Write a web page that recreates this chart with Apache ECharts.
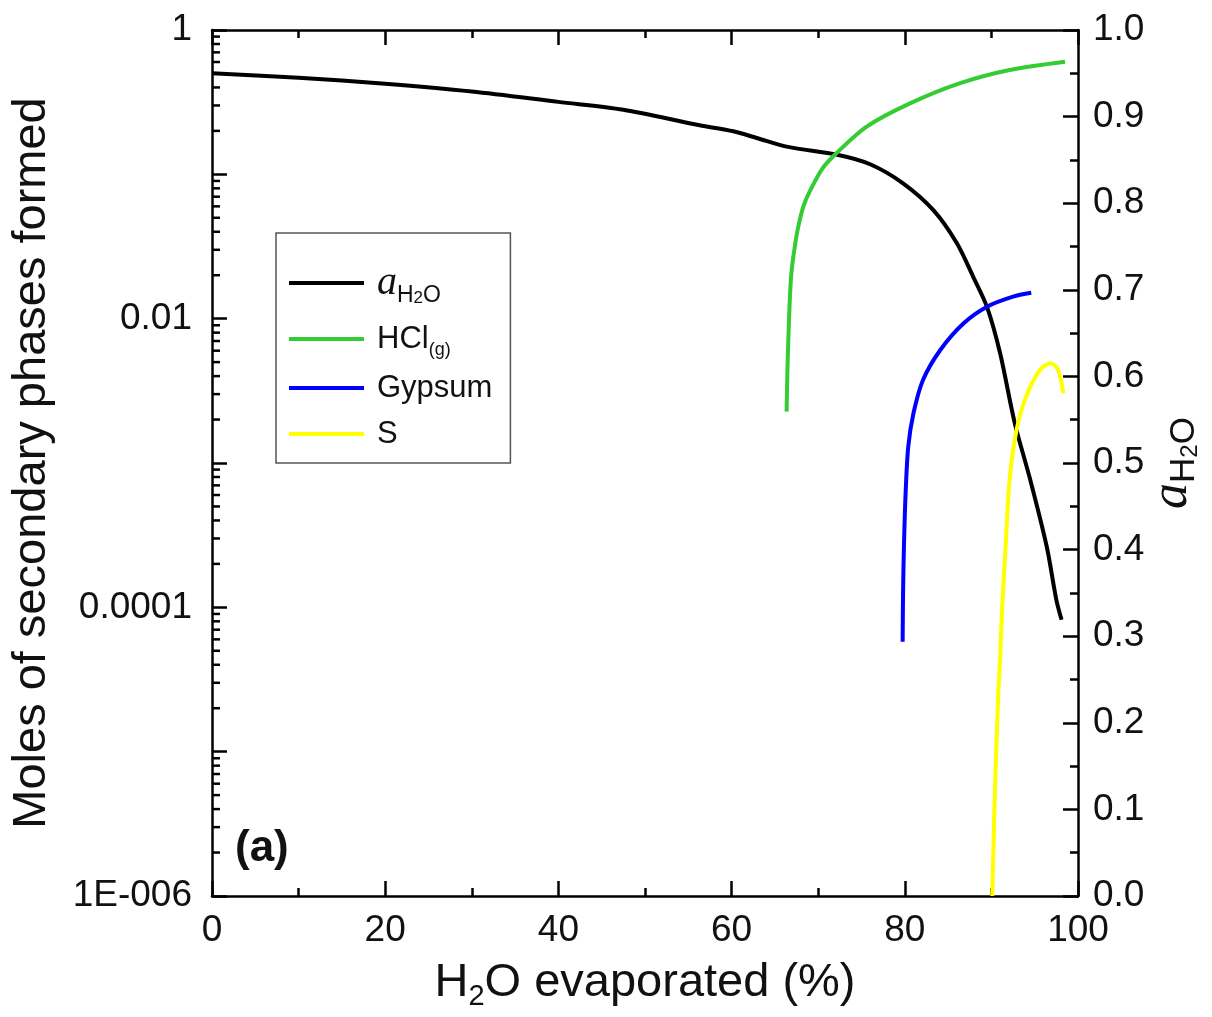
<!DOCTYPE html>
<html>
<head>
<meta charset="utf-8">
<title>Secondary phases vs H2O evaporated</title>
<script src="https://cdn.jsdelivr.net/npm/echarts@6/dist/echarts.min.js"></script>
<style>
  html, body { margin: 0; padding: 0; background: #fff; }
  #chart { width: 1212px; height: 1017px; }
</style>
</head>
<body>
<div id="chart"></div>
<script>
// water activity (right axis)
var waterX = [0, 10, 20, 30, 40, 47.5, 56.3, 60.2, 63, 66.5, 72.2, 76, 79.8, 83.3, 86, 87.9, 89.5, 91, 92.7, 94.5, 96.4, 97.5, 98.1];
var waterActivity = [0.950, 0.945, 0.938, 0.929, 0.917, 0.908, 0.890, 0.883, 0.875, 0.865, 0.856, 0.845, 0.823, 0.792, 0.754, 0.715, 0.680, 0.627, 0.546, 0.480, 0.403, 0.342, 0.319];

// moles formed (left log axis)
var hclX = [66.35, 66.45, 66.55, 66.7, 66.9, 67.3, 67.7, 68.3, 69.1, 70.5, 72.1, 75.6, 80.6, 86.4, 92.1, 98.5];
var hclMoles = [0.00227, 0.00447, 0.00711, 0.0126, 0.0206, 0.0316, 0.0434, 0.0603, 0.0778, 0.110, 0.140, 0.214, 0.310, 0.428, 0.528, 0.603];

var gypsumX = [79.75, 79.8, 79.9, 80.1, 80.4, 81.0, 82.1, 84.1, 86.8, 89.5, 92.5, 94.6];
var gypsumMoles = [5.78e-5, 1.26e-4, 2.63e-4, 6.31e-4, 1.30e-3, 2.21e-3, 3.76e-3, 6.07e-3, 9.29e-3, 1.21e-2, 1.42e-2, 1.51e-2];

var sulfurX = [90.1, 90.4, 90.8, 91.0, 91.2, 91.6, 92.1, 92.9, 94.0, 95.6, 96.8, 97.7, 98.3];
var sulfurMoles = [1e-6, 5.14e-6, 2.54e-5, 4.32e-5, 8.9e-5, 2.4e-4, 7.62e-4, 1.69e-3, 2.88e-3, 4.41e-3, 4.91e-3, 4.41e-3, 3.04e-3];

// tick labels
var logLabels = { '0': '1', '-2': '0.01', '-4': '0.0001', '-6': '1E-006' };
var minorMultipliers = [2, 3, 4, 5, 6, 7, 8, 9];
var minorDecades = [-6, -5, -4, -3, -2, -1];

var FONT = '"Liberation Sans", Arial, sans-serif';
var SERIF = '"Liberation Serif", "Times New Roman", serif';

function pairs(xs, ys) {
    var list = [];
    for (var i = 0; i < xs.length; i++) list.push([xs[i], ys[i]]);
    return list;
}

var logMinorTicks = [];
minorDecades.forEach(function(d) {
    minorMultipliers.forEach(function(m) {
        logMinorTicks.push([0, m * Math.pow(10, d)]);
    });
});

var legendNames = {
    'aH2O': '{a|a}{h|H}{s|2}{h|O}',
    'HCl': '{t|HCl}{g|(g)}',
    'Gypsum': 'Gypsum',
    'S': 'S'
};

var chart = echarts.init(document.getElementById('chart'));

var xAxisBase = {
    type: 'value',
    min: 0,
    max: 100,
    interval: 20,
    axisLine: { show: true, onZero: false, lineStyle: { color: '#000', width: 2.5 } },
    axisTick: { show: true, inside: true, length: 15, lineStyle: { color: '#000', width: 2.5 } },
    minorTick: { show: true, splitNumber: 2, length: 8, lineStyle: { color: '#000', width: 2.5 } },
    splitLine: { show: false },
    minorSplitLine: { show: false }
};

var option = {
    animation: false,
    backgroundColor: '#fff',
    textStyle: { fontFamily: FONT },
    title: {
        text: '(a)',
        left: 230,
        top: 822,
        textStyle: { fontFamily: FONT, fontSize: 44, fontWeight: 'bold', color: '#111' }
    },
    grid: {
        left: 212,
        top: 30,
        right: 134,
        bottom: 121,
        outerBoundsMode: 'none',
        containLabel: false
    },
    legend: {
        orient: 'vertical',
        left: 276,
        top: 233,
        padding: [26, 18, 12, 13],
        itemGap: 12,
        itemWidth: 75,
        itemHeight: 4,
        icon: 'rect',
        borderColor: '#555',
        borderWidth: 1.5,
        data: ['aH2O', 'HCl', 'Gypsum', 'S'],
        formatter: function(name) { return legendNames[name]; },
        textStyle: {
            fontFamily: FONT,
            fontSize: 31,
            color: '#111',
            lineHeight: 34,
            padding: [0, 0, 0, 8],
            rich: {
                a: { fontFamily: SERIF, fontStyle: 'italic', fontSize: 40, lineHeight: 48, color: '#111', verticalAlign: 'middle' },
                h: { fontFamily: FONT, fontSize: 23, lineHeight: 22, color: '#111', verticalAlign: 'bottom' },
                s: { fontFamily: FONT, fontSize: 17, lineHeight: 10, color: '#111', verticalAlign: 'bottom' },
                t: { fontFamily: FONT, fontSize: 31, lineHeight: 40, color: '#111', verticalAlign: 'middle' },
                g: { fontFamily: FONT, fontSize: 18, lineHeight: 14, color: '#111', verticalAlign: 'bottom' }
            }
        }
    },
    xAxis: [
        echarts.util.merge({
            position: 'bottom',
            name: '{t|H}{s|2}{t|O evaporated (%)}',
            nameLocation: 'middle',
            nameGap: 59,
            nameMoveOverlap: false,
            nameTextStyle: {
                rich: {
                    t: { fontFamily: FONT, fontSize: 47, lineHeight: 56, color: '#111', verticalAlign: 'middle' },
                    s: { fontFamily: FONT, fontSize: 29, lineHeight: 20, color: '#111', verticalAlign: 'bottom' }
                }
            },
            axisLabel: { fontFamily: FONT, fontSize: 37, color: '#111', margin: 16 }
        }, xAxisBase, true),
        echarts.util.merge({
            position: 'top',
            axisLabel: { show: false }
        }, xAxisBase, true)
    ],
    yAxis: [
        {
            type: 'log',
            logBase: 10,
            min: 1e-6,
            max: 1,
            splitNumber: 6,
            position: 'left',
            name: 'Moles of secondary phases formed',
            nameLocation: 'middle',
            nameGap: 156,
            nameMoveOverlap: false,
            nameTextStyle: { fontFamily: FONT, fontSize: 47, color: '#111' },
            axisLine: { show: true, onZero: false, lineStyle: { color: '#000', width: 2.5 } },
            axisTick: { show: true, inside: true, length: 15, lineStyle: { color: '#000', width: 2.5 } },
            minorTick: { show: false },
            splitLine: { show: false },
            minorSplitLine: { show: false },
            axisLabel: {
                fontFamily: FONT,
                fontSize: 37,
                color: '#111',
                margin: 20,
                formatter: function(v) {
                    var e = Math.round(Math.log(v) / Math.LN10);
                    return logLabels[String(e)] || '';
                }
            }
        },
        {
            type: 'value',
            min: 0,
            max: 1,
            interval: 0.1,
            position: 'right',
            name: '{a|a}{h|H}{s|2}{h|O}',
            nameLocation: 'middle',
            nameRotate: 90,
            nameGap: 64,
            nameMoveOverlap: false,
            nameTextStyle: {
                rich: {
                    a: { fontFamily: SERIF, fontStyle: 'italic', fontSize: 52, lineHeight: 60, color: '#111', verticalAlign: 'middle' },
                    h: { fontFamily: FONT, fontSize: 35, lineHeight: 30, color: '#111', verticalAlign: 'bottom' },
                    s: { fontFamily: FONT, fontSize: 24, lineHeight: 14, color: '#111', verticalAlign: 'bottom' }
                }
            },
            axisLine: { show: true, onZero: false, lineStyle: { color: '#000', width: 2.5 } },
            axisTick: { show: true, inside: true, length: 15, lineStyle: { color: '#000', width: 2.5 } },
            minorTick: { show: true, splitNumber: 2, length: 8, lineStyle: { color: '#000', width: 2.5 } },
            splitLine: { show: false },
            minorSplitLine: { show: false },
            axisLabel: {
                fontFamily: FONT,
                fontSize: 37,
                color: '#111',
                margin: 15,
                formatter: function(v) { return v.toFixed(1); }
            }
        }
    ],
    series: [
        {
            name: 'aH2O',
            type: 'line',
            xAxisIndex: 0,
            yAxisIndex: 1,
            symbol: 'none',
            smooth: 0.3,
            lineStyle: { color: '#000', width: 4 },
            itemStyle: { color: '#000' },
            data: pairs(waterX, waterActivity)
        },
        {
            name: 'HCl',
            type: 'line',
            xAxisIndex: 0,
            yAxisIndex: 0,
            symbol: 'none',
            smooth: 0.3,
            lineStyle: { color: '#33cc33', width: 4 },
            itemStyle: { color: '#33cc33' },
            data: pairs(hclX, hclMoles)
        },
        {
            name: 'Gypsum',
            type: 'line',
            xAxisIndex: 0,
            yAxisIndex: 0,
            symbol: 'none',
            smooth: 0.3,
            lineStyle: { color: '#0000ff', width: 4 },
            itemStyle: { color: '#0000ff' },
            data: pairs(gypsumX, gypsumMoles)
        },
        {
            name: 'S',
            type: 'line',
            xAxisIndex: 0,
            yAxisIndex: 0,
            symbol: 'none',
            smooth: 0.3,
            lineStyle: { color: '#ffff00', width: 4 },
            itemStyle: { color: '#ffff00' },
            data: pairs(sulfurX, sulfurMoles)
        },
        {
            // log minor ticks on the left axis
            name: 'logMinor',
            type: 'custom',
            xAxisIndex: 0,
            yAxisIndex: 0,
            silent: true,
            z: 10,
            renderItem: function(params, api) {
                var p = api.coord([api.value(0), api.value(1)]);
                return {
                    type: 'line',
                    shape: { x1: p[0], y1: p[1], x2: p[0] + 8, y2: p[1] },
                    style: { stroke: '#000', lineWidth: 2.5 }
                };
            },
            data: logMinorTicks
        }
    ]
};

chart.setOption(option);
</script>
</body>
</html>
